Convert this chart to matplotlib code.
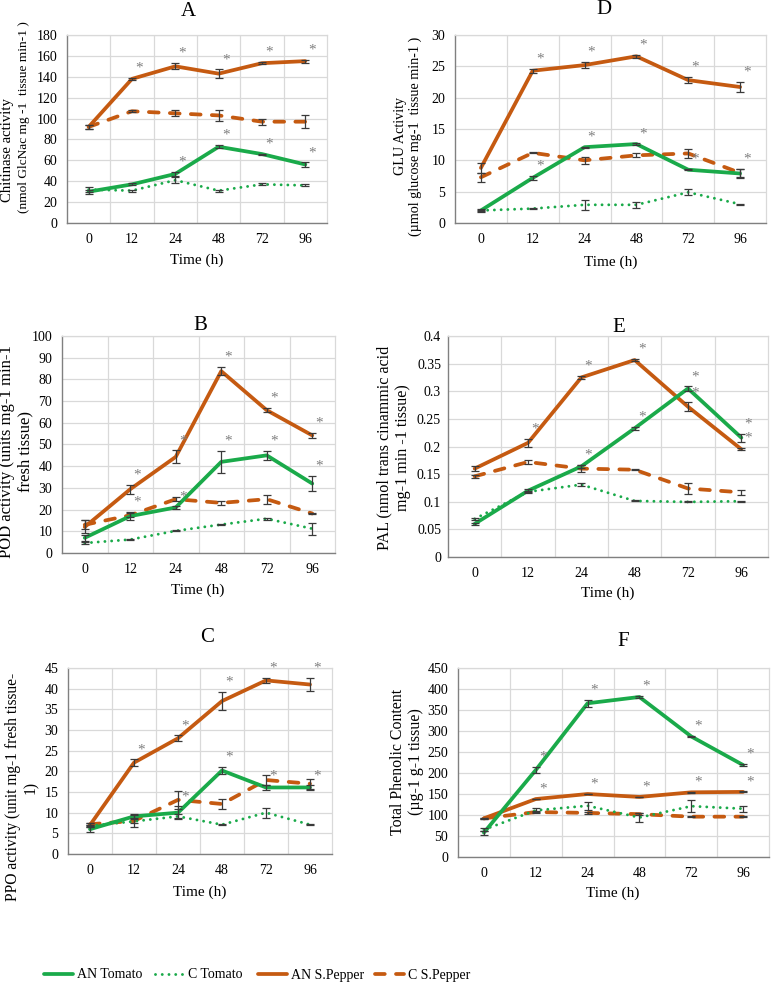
import matplotlib
matplotlib.use('Agg')
import matplotlib.pyplot as plt
from matplotlib.lines import Line2D
from matplotlib.ticker import FuncFormatter, FixedLocator

plt.rcParams['font.family'] = ['Liberation Serif', 'DejaVu Serif']

# ---------------- data ----------------
time_labels = ['0', '12', '24', '48', '72', '96']
series_names = ['AN Tomato', 'C Tomato', 'AN S.Pepper', 'C S.Pepper']

# A - Chitinase
chi_an_tom = [30, 37, 47, 73, 66, 56]
chi_an_tom_err = [2, 1, 2, 1.5, 0.5, 2]
chi_c_tom = [32, 31, 41, 31, 37, 36]
chi_c_tom_err = [2, 1, 3, 1, 1, 1]
chi_an_pep = [92, 138, 150, 143, 153, 155]
chi_an_pep_err = [2, 1, 3, 4, 1, 1.5]
chi_c_pep = [92, 107, 105, 103, 97, 97]
chi_c_pep_err = [2, 1, 3, 5, 3, 6]
chi_star_tom = [0, 0, 1, 1, 1, 1]
chi_star_pep = [0, 1, 1, 1, 1, 1]

# D - GLU
glu_an_tom = [2.0, 7.2, 12.1, 12.6, 8.5, 7.9]
glu_an_tom_err = [0.1, 0.3, 0.1, 0.1, 0.1, 0.7]
glu_c_tom = [2.0, 2.3, 2.9, 2.9, 4.9, 3.0]
glu_c_tom_err = [0.2, 0.1, 0.8, 0.5, 0.5, 0.05]
glu_an_pep = [8.8, 24.3, 25.2, 26.6, 22.8, 21.7]
glu_an_pep_err = [0.8, 0.3, 0.5, 0.2, 0.5, 0.8]
glu_c_pep = [7.3, 11.2, 10.0, 10.8, 11.1, 8.0]
glu_c_pep_err = [0.7, 0.1, 0.6, 0.3, 0.7, 0.6]
glu_star_tom = [0, 1, 1, 1, 1, 1]
glu_star_pep = [0, 1, 1, 1, 1, 1]

# B - POD
pod_an_tom = [7, 17, 21, 42, 45, 32]
pod_an_tom_err = [1.5, 2, 0.5, 5, 2, 3.5]
pod_c_tom = [4.6, 6.2, 10.2, 13.1, 15.8, 11.2]
pod_c_tom_err = [0.5, 0.3, 0.2, 0.2, 0.5, 2.7]
pod_an_pep = [12, 29.4, 44.3, 83.8, 65.8, 54.2]
pod_an_pep_err = [3, 2, 3, 2, 1, 1]
pod_c_pep = [13, 17.4, 24.8, 23.1, 24.8, 18.2]
pod_c_pep_err = [2, 1, 1, 1, 2, 0.1]
pod_star_tom = [0, 1, 1, 1, 1, 1]
pod_star_pep = [0, 1, 1, 1, 1, 1]

# E - PAL
pal_an_tom = [0.060, 0.120, 0.164, 0.233, 0.305, 0.216]
pal_an_tom_err = [0.002, 0.003, 0.003, 0.003, 0.004, 0.007]
pal_c_tom = [0.069, 0.118, 0.131, 0.1015, 0.0997, 0.101]
pal_c_tom_err = [0.002, 0.002, 0.003, 0.001, 0.001, 0.001]
pal_an_pep = [0.160, 0.2066, 0.325, 0.3565, 0.272, 0.195]
pal_an_pep_err = [0.004, 0.007, 0.003, 0.002, 0.008, 0.002]
pal_c_pep = [0.146, 0.172, 0.160, 0.158, 0.124, 0.117]
pal_c_pep_err = [0.003, 0.003, 0.006, 0.001, 0.01, 0.004]
pal_star_tom = [0, 0, 1, 1, 1, 1]
pal_star_pep = [0, 1, 1, 1, 1, 1]

# C - PPO
ppo_an_tom = [6.0, 9.1, 10.0, 20.2, 16.1, 16.1]
ppo_an_tom_err = [0.7, 0.5, 1.5, 0.8, 0.5, 0.5]
ppo_c_tom = [6.8, 7.9, 9.1, 7.1, 10.0, 7.1]
ppo_c_tom_err = [0.3, 0.5, 0.5, 0.2, 1.2, 0.2]
ppo_an_pep = [7.0, 22.1, 28.0, 37.0, 42.0, 41.0]
ppo_an_pep_err = [0.5, 0.8, 0.7, 2.2, 0.6, 1.6]
ppo_c_pep = [7.2, 8.0, 13.1, 12.1, 17.9, 17.0]
ppo_c_pep_err = [0.3, 1.5, 2.2, 1.2, 1.2, 1.2]
ppo_star_tom = [0, 0, 1, 1, 1, 1]
ppo_star_pep = [0, 1, 1, 1, 1, 1]

# F - Total phenolic content
tpc_an_tom = [58, 207, 366, 381, 287, 219]
tpc_an_tom_err = [5, 8, 8, 2, 2, 3]
tpc_c_tom = [65, 111, 122, 94, 121, 115]
tpc_c_tom_err = [3, 5, 10, 10, 15, 7]
tpc_an_pep = [92, 138, 150, 143, 154, 155]
tpc_an_pep_err = [2, 1, 1, 1, 1, 1]
tpc_c_pep = [92, 107, 105, 102, 96, 96]
tpc_c_pep_err = [2, 2, 2, 2, 1, 1]
tpc_star_tom = [0, 1, 1, 1, 1, 1]
tpc_star_pep = [0, 1, 1, 1, 1, 1]

# ---------------- style ----------------
W, H = 772, 983
GREEN = '#1AAA4A'
ORANGE = '#C55A11'
GRID = '#D9D9D9'

styles = {
    'AN Tomato': dict(color=GREEN, lw=2.7, ls='-', solid_capstyle='round'),
    'C Tomato': dict(color=GREEN, lw=2.1, ls=(0, (0.01, 2.3)), dash_capstyle='round'),
    'AN S.Pepper': dict(color=ORANGE, lw=2.7, ls='-', solid_capstyle='round'),
    'C S.Pepper': dict(color=ORANGE, lw=2.7, ls=(0, (2.6, 3.0)), dash_capstyle='round'),
}

fig = plt.figure(figsize=(W / 100, H / 100), dpi=100)


def px_rect(l, t, r, b):
    return [l / W, 1 - b / H, (r - l) / W, (b - t) / H]


def fmt_num(v, pos):
    return '%g' % round(v, 4)


def panel(rect, ymax, ystep, data, title, title_xy, ylabel_parts, xlabel_xy, ypad=7):
    ax = fig.add_axes(px_rect(*rect))
    x = list(range(len(time_labels)))
    an_t, an_t_e, c_t, c_t_e, an_p, an_p_e, c_p, c_p_e, st_t, st_p = data
    order = [('C S.Pepper', c_p, c_p_e), ('AN S.Pepper', an_p, an_p_e),
             ('C Tomato', c_t, c_t_e), ('AN Tomato', an_t, an_t_e)]
    for name, vals, errs in order:
        ax.plot(x, vals, zorder=3, **styles[name])
        ax.errorbar(x, vals, yerr=errs, fmt='none', ecolor='#3A3A3A',
                    elinewidth=0.9, capsize=3.2, capthick=0.9, zorder=4)
    for vals, errs, stars in [(an_t, an_t_e, st_t), (an_p, an_p_e, st_p)]:
        for xi, v, e, s in zip(x, vals, errs, stars):
            if s:
                ax.annotate('*', xy=(xi, v + e), xytext=(5, 7), textcoords='offset points',
                            ha='center', va='center', fontsize=11, color='#7F7F7F', zorder=5)
    ax.set_xlim(-0.5, len(time_labels) - 0.5)
    ax.set_ylim(0, ymax)
    nt = int(round(ymax / ystep))
    ax.yaxis.set_major_locator(FixedLocator([i * ystep for i in range(nt + 1)]))
    ax.yaxis.set_major_formatter(FuncFormatter(fmt_num))
    ax.set_xticks(x)
    ax.set_xticklabels(time_labels)
    ax.xaxis.set_minor_locator(FixedLocator([i + 0.5 for i in range(len(time_labels) - 1)]))
    ax.grid(axis='y', which='major', color=GRID, lw=0.9, zorder=0)
    ax.grid(axis='x', which='minor', color=GRID, lw=0.9, zorder=0)
    ax.set_axisbelow(True)
    ax.tick_params(axis='x', which='both', length=0, labelsize=10, pad=7)
    ax.tick_params(axis='y', which='both', length=0, labelsize=10, pad=ypad)
    for s in ['top', 'right']:
        ax.spines[s].set_color(GRID)
        ax.spines[s].set_linewidth(0.9)
    for s in ['left', 'bottom']:
        ax.spines[s].set_color('#808080')
        ax.spines[s].set_linewidth(1.0)
    fig.text(title_xy[0] / W, 1 - title_xy[1] / H, title, ha='center', va='center', fontsize=15)
    for txt, lx, ly, size in ylabel_parts:
        fig.text(lx / W, 1 - ly / H, txt, ha='center', va='center',
                 rotation=90, fontsize=size, multialignment='center', linespacing=1.2)
    fig.text(xlabel_xy[0] / W, 1 - xlabel_xy[1] / H, 'Time (h)', ha='center', va='center', fontsize=11)
    return ax


panel((67, 35, 327, 223), 180, 20,
      (chi_an_tom, chi_an_tom_err, chi_c_tom, chi_c_tom_err, chi_an_pep, chi_an_pep_err,
       chi_c_pep, chi_c_pep_err, chi_star_tom, chi_star_pep),
      'A', (188, 11),
      [('Chitinase activity', 8, 150, 10.6), ('(nmol GlcNac mg -1  tissue min-1 )', 24, 117, 9.6)],
      (197, 260))

panel((455, 35, 766, 223), 30, 5,
      (glu_an_tom, glu_an_tom_err, glu_c_tom, glu_c_tom_err, glu_an_pep, glu_an_pep_err,
       glu_c_pep, glu_c_pep_err, glu_star_tom, glu_star_pep),
      'D', (604, 9),
      [('GLU Activity\n(\u00b5mol glucose mg-1  tissue min-1 )', 408, 136, 10.2)],
      (611, 262))

panel((62, 336, 335, 553), 100, 10,
      (pod_an_tom, pod_an_tom_err, pod_c_tom, pod_c_tom_err, pod_an_pep, pod_an_pep_err,
       pod_c_pep, pod_c_pep_err, pod_star_tom, pod_star_pep),
      'B', (200, 326),
      [('POD activity (units mg-1 min-1\nfresh tissue)', 16, 452, 12)],
      (198, 590))

panel((448, 336, 768, 557), 0.4, 0.05,
      (pal_an_tom, pal_an_tom_err, pal_c_tom, pal_c_tom_err, pal_an_pep, pal_an_pep_err,
       pal_c_pep, pal_c_pep_err, pal_star_tom, pal_star_pep),
      'E', (619, 327),
      [('PAL (nmol trans cinammic acid\nmg-1 min -1 tissue)', 394, 448, 11.6)],
      (608, 593), ypad=5)

panel((68, 668, 332, 854), 45, 5,
      (ppo_an_tom, ppo_an_tom_err, ppo_c_tom, ppo_c_tom_err, ppo_an_pep, ppo_an_pep_err,
       ppo_c_pep, ppo_c_pep_err, ppo_star_tom, ppo_star_pep),
      'C', (207, 638),
      [('PPO activity (unit mg-1 fresh tissue-\n1)', 22, 787, 11.2)],
      (200, 892))

panel((458, 668, 769, 857), 450, 50,
      (tpc_an_tom, tpc_an_tom_err, tpc_c_tom, tpc_c_tom_err, tpc_an_pep, tpc_an_pep_err,
       tpc_c_pep, tpc_c_pep_err, tpc_star_tom, tpc_star_pep),
      'F', (623, 642),
      [('Total Phenolic Content\n(\u00b5g-1 g-1 tissue)', 407, 762, 11.4)],
      (613, 893))

# legend
leg_x = [44, 155, 258, 375]
for name, lx in zip(series_names, leg_x):
    h = Line2D([], [], **styles[name])
    fig.legend([h], [name], loc='center left', bbox_to_anchor=(lx / W, 1 - 975 / H),
               frameon=False, fontsize=10, handlelength=2.1, handletextpad=0.3, borderpad=0,
               borderaxespad=0)

fig.savefig('out.png', dpi=100)
